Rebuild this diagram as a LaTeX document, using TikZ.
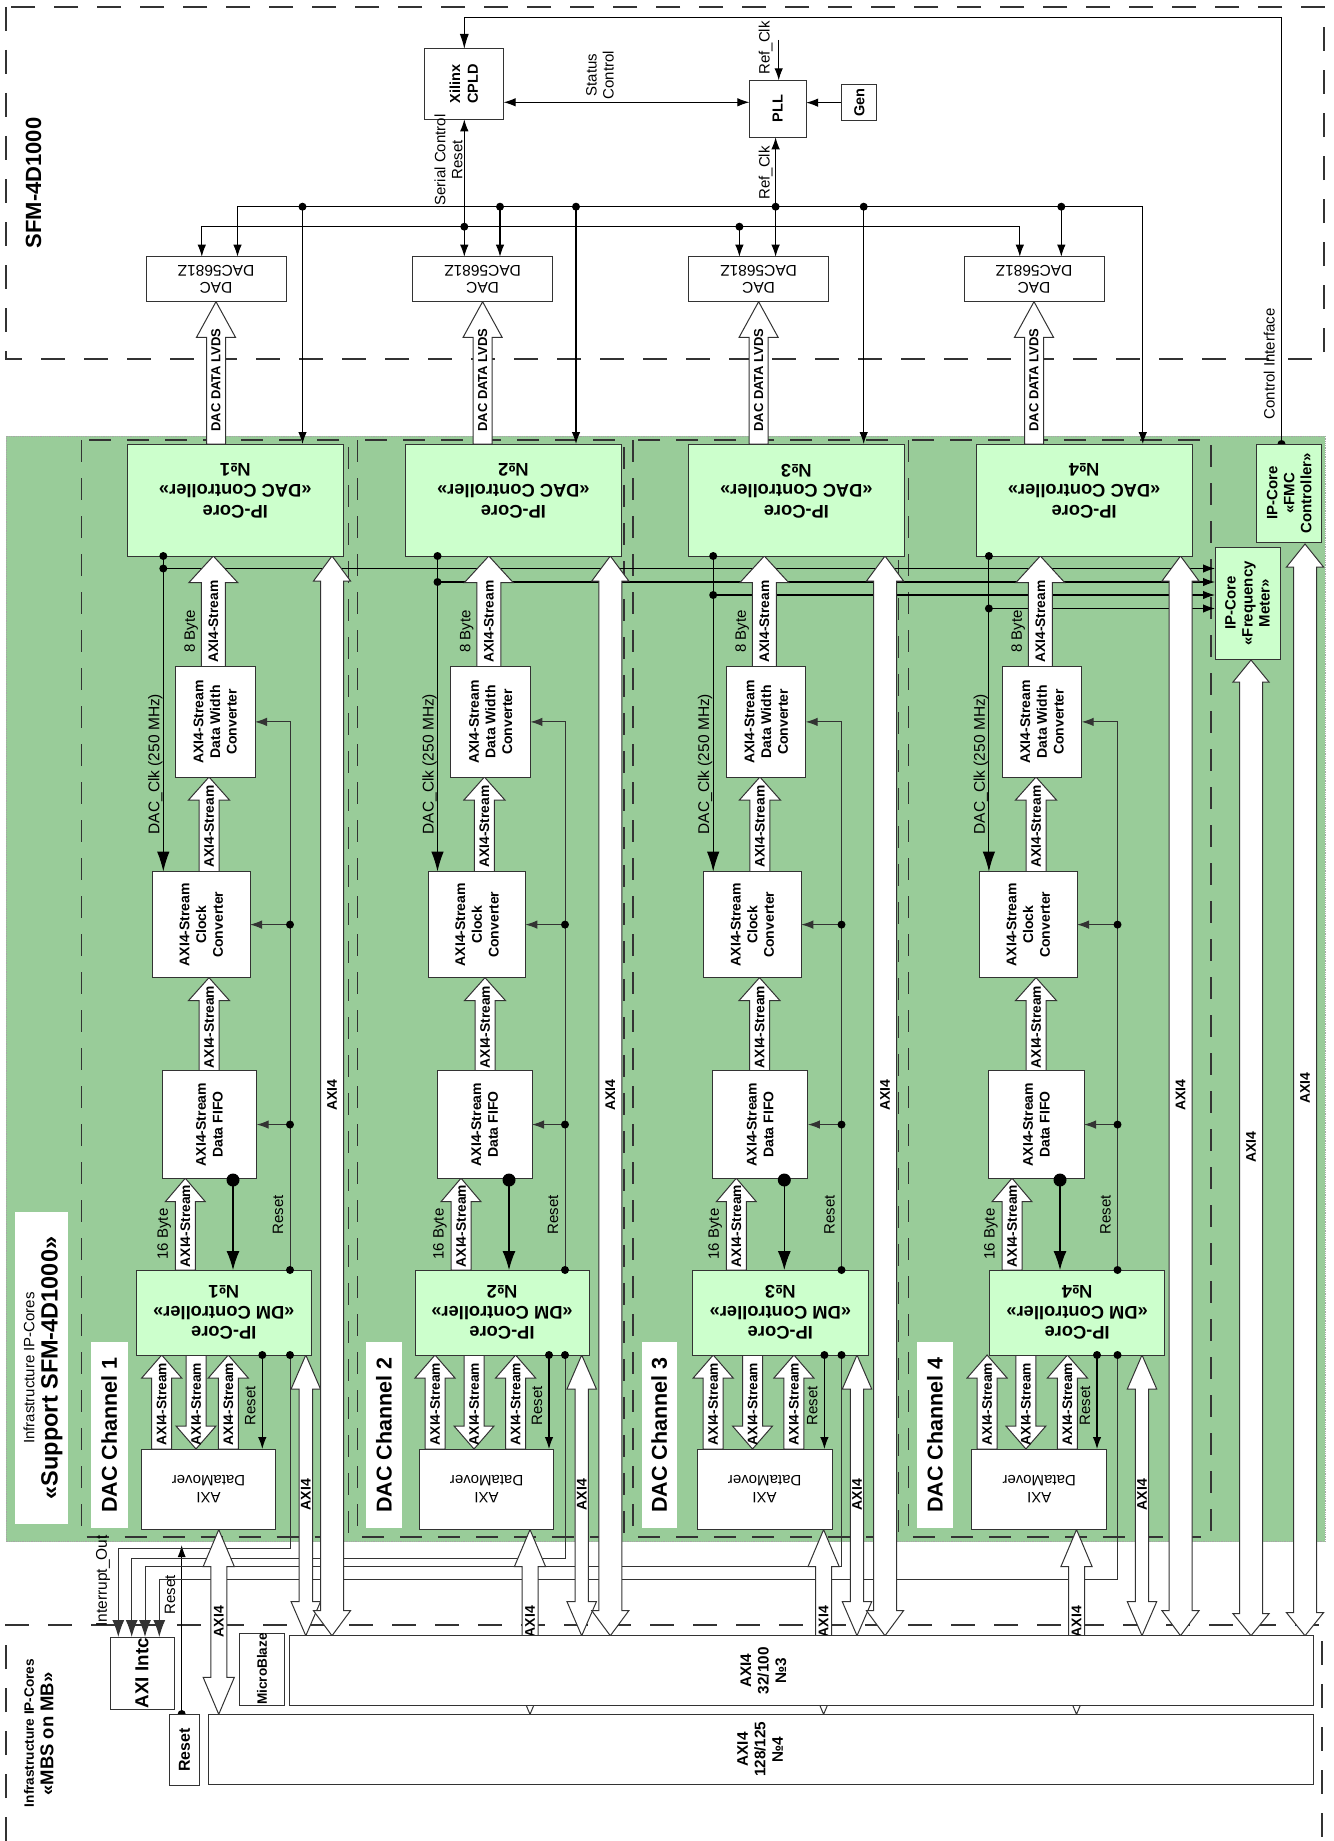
\documentclass[tikz,border=0pt]{standalone}
\usepackage{fontspec}
\setmainfont{Liberation Sans}
\usetikzlibrary{arrows.meta}
\definecolor{bggreen}{HTML}{99CC99}
\definecolor{lgreen}{HTML}{CCFFCC}
\definecolor{edgec}{HTML}{333333}
\pgfdeclarelayer{back}\pgfdeclarelayer{lines}\pgfdeclarelayer{fat}
\pgfsetlayers{back,lines,fat,main}
\newcommand\fatup[6]{\draw[fatarrow] ({#1},{#2}) -- ({#1+#5},{#2+#6}) -- ({#1+#4},{#2+#6}) -- ({#1+#4},{#3}) -- ({#1-#4},{#3}) -- ({#1-#4},{#2+#6}) -- ({#1-#5},{#2+#6}) -- cycle;}
\newcommand\fatdown[6]{\draw[fatarrow] ({#1},{#2}) -- ({#1+#5},{#2-#6}) -- ({#1+#4},{#2-#6}) -- ({#1+#4},{#3}) -- ({#1-#4},{#3}) -- ({#1-#4},{#2-#6}) -- ({#1-#5},{#2-#6}) -- cycle;}
\newcommand\fatboth[6]{\draw[fatarrow] ({#1},{#2}) -- ({#1+#5},{#2+#6}) -- ({#1+#4},{#2+#6}) -- ({#1+#4},{#3-#6}) -- ({#1+#5},{#3-#6}) -- ({#1},{#3}) -- ({#1-#5},{#3-#6}) -- ({#1-#4},{#3-#6}) -- ({#1-#4},{#2+#6}) -- ({#1-#5},{#2+#6}) -- cycle;}
\def\chlist{1/146/286/127.3/343.3/163.3/213.3/175.4/255/209/152.7/250/209/162/256.7/233/185.3/290/136/311.6/262.3/161.7/196/228.3/141.5/275.5/305.8/332/218.75/90.6/128/568.5/1548/118.3/81.7/348.3,
2/412.5/552.7/405.4/621.4/437.5/488.8/450.9/530.4/484.4/428.6/525.4/485/437.5/532/509/461/565/415/589/549/435/474/515.6/419.6/553.6/581.7/610.3/530/366/402/582/1558/131.7/357.3/624,
3/688.4/828.8/688.4/904.3/713.2/764.3/726.8/805.7/759.9/703.6/801.3/759.5/712.4/807.9/784.3/736.3/841.5/692.7/868/824.4/713.2/752.5/793.9/697/832.3/857/885/823.6/641.5/677/595/1566.7/145/633/898.6,
4/964/1104/976.2/1192/988.9/1040.3/1002.4/1081.7/1036/979.7/1077/1036/988.9/1084/1060/1012/1117.5/989.7/1164.6/1097/987.1/1025.9/1067.4/971.8/1106.6/1142/1180.5/1076.5/916.9/953.1/608.5/1579.3/159.3/908.2/1211}
\begin{document}
\begin{tikzpicture}[x=1pt,y=-1pt,
 every node/.style={inner sep=0pt,outer sep=0pt},
 sig/.style={draw=black,line width=1.1pt},
 gsig/.style={draw=edgec,line width=1pt},
 box/.style={draw=edgec,line width=1pt,fill=white},
 gbox/.style={box,fill=lgreen},
 wbox/.style={fill=white},
 fatarrow/.style={draw=edgec,fill=white,line width=1pt,line join=miter},
 regdash/.style={draw=edgec,line width=1.2pt,dash pattern=on 24pt off 19pt},
 chdash/.style={draw=edgec,line width=1.1pt,dash pattern=on 22pt off 16pt},
 ar/.style={-{Latex[length=12pt,width=8.5pt]}},
 arr/.style={{Latex[length=12pt,width=8.5pt]}-{Latex[length=12pt,width=8.5pt]}},
 arbig/.style={-{Latex[length=20pt,width=12.5pt]}},
 arint/.style={-{Latex[length=17pt,width=12pt]}},
 tn/.style={font=\fontsize{15}{17}\selectfont},
 tb/.style={font=\fontsize{14}{16.7}\selectfont\bfseries},
 ts/.style={font=\fontsize{13.8}{16}\selectfont\bfseries},
 tx/.style={font=\fontsize{14}{16}\selectfont\bfseries},
 tdc/.style={font=\fontsize{18.3}{20.7}\selectfont\bfseries},
 tch/.style={font=\fontsize{21.5}{24}\selectfont\bfseries},
 tipc/.style={font=\fontsize{15}{17}\selectfont\bfseries}]
\useasboundingbox (0,0) rectangle (1333,1841);
\begin{pgfonlayer}{back}
\fill[white] (0,0) rectangle (1333,1841);
\fill[bggreen] (6,436) rectangle (1325,1541.7);
\draw[black!35,densely dotted,line width=0.8pt] (6,436) rectangle (1325,1541.7);
\draw[regdash] (6,7) rectangle (1324,359);
\draw[regdash] (6,1841) -- (6,1625) -- (1322,1625) -- (1322,1841);
\end{pgfonlayer}

% ---------- top region boxes ----------
\node[box,minimum width=79.6,minimum height=70.3] (cpld) at (463.8,84.15) {};
\node[rotate=90,align=center,font=\fontsize{14.5}{17.8}\selectfont\bfseries] (cpldt) at (cpld) {Xilinx\\CPLD};
\node[box,minimum width=56.7,minimum height=57] (pll) at (777.75,108.8) {};
\node[rotate=90,font=\fontsize{14.5}{17}\selectfont\bfseries] (pllt) at (pll) {PLL};
\node[box,minimum width=34.9,minimum height=36.7] (gen) at (859.35,102.65) {};
\node[rotate=90,font=\fontsize{14.5}{17}\selectfont\bfseries] (gent) at (gen) {Gen};
\node[rotate=90,font=\fontsize{22}{26}\selectfont\bfseries] (sfm) at (33.5,183) {SFM-4D1000};
\node[rotate=90,align=center,tn] (stc) at (600,75) {Status\\Control};
\node[rotate=90,tn] (rc1) at (765.6,48) {Ref\_Clk};
\node[rotate=90,tn] (rc2) at (765.6,173) {Ref\_Clk};
\node[rotate=90,align=center,tn] (scr) at (448.6,160) {Serial Control\\Reset};
\node[rotate=90,tn] (cif) at (1269.3,364) {Control Interface};

\begin{pgfonlayer}{lines}
\draw[sig,-{Latex[length=15pt,width=9pt]}] (1281.5,444) -- (1281.5,17.7) -- (464.3,17.7) -- (464.3,49);
\draw[sig,arr] (464.3,119.3) -- (464.3,256.7);
\draw[sig,arr] (503.6,102.3) -- (749.4,102.3);
\draw[sig,ar] (gen.west) -- (806.1,102.65);
\draw[sig,ar] (778.7,40) -- (778.7,80.3);
\draw[sig,arr] (201.8,256.7) -- (201.8,226.7) -- (1019.8,226.7) -- (1019.8,256.7);
\draw[sig,ar] (739.4,226.7) -- (739.4,256.7);
\draw[sig,arr] (237.5,256.7) -- (237.5,206.7) -- (1142.8,206.7) -- (1142.8,444);
\draw[sig,ar] (302.5,206.7) -- (302.5,444);
\draw[sig,ar] (500,206.7) -- (500,256.7);
\draw[sig,ar] (576,206.7) -- (576,444);
\draw[sig,ar] (863.7,206.7) -- (863.7,444);
\draw[sig,ar] (1061.3,206.7) -- (1061.3,256.7);
\draw[sig,arr] (775.6,137.3) -- (775.6,256.7);
\draw[sig,-{Latex[length=12pt,width=8pt]}] (181.7,1714) -- (181.7,1545);
\end{pgfonlayer}
\foreach \p in {(302.5,206.7),(500,206.7),(576,206.7),(775.6,206.7),(863.7,206.7),(1061.3,206.7),(464.3,226.7),(739.4,226.7),(1281.5,444),(181.7,1714)}
  \fill \p circle[radius=4pt];

% ---------- channels ----------
\foreach \ch/\dacL/\dacR/\dcL/\dcR/\clkx/\ebx/\dwL/\dwR/\arA/\ccL/\ccR/\arB/\ffL/\ffR/\fdx/\sbx/\vlx/\dmcL/\dmcR/\rdx/\stA/\stB/\stC/\dmL/\dmR/\mxx/\bxx/\mbx/\lbL/\lbR/\fyy/\iyy/\ixx/\dsL/\dsR in \chlist {
  \begin{pgfonlayer}{back}
    \draw[chdash] (\dsL,440) rectangle (\dsR,1537);
  \end{pgfonlayer}
  % boxes
  \node[box,minimum width={\dacR-\dacL},minimum height=45] (dac\ch) at ({(\dacL+\dacR)/2},279.2) {};
  \node[rotate=180,align=center,font=\fontsize{15.5}{17}\selectfont] (dact\ch) at (dac\ch) {DAC\\DAC5681Z};
  \node[gbox,minimum width={\dcR-\dcL},minimum height=112] (dc\ch) at ({(\dcL+\dcR)/2},500) {};
  \node[rotate=180,align=center,tdc] (dct\ch) at ({(\dcL+\dcR)/2},491) {IP-Core\\«DAC Controller»\\№\ch};
  \node[box,minimum width={\dwR-\dwL},minimum height=110.2] (dw\ch) at ({(\dwL+\dwR)/2},721.9) {};
  \node[rotate=90,align=center,tb] (dwt\ch) at (dw\ch) {AXI4-Stream\\Data Width\\Converter};
  \node[box,minimum width={\ccR-\ccL},minimum height=106] (cc\ch) at ({(\ccL+\ccR)/2},924.6) {};
  \node[rotate=90,align=center,tb] (cct\ch) at (cc\ch) {AXI4-Stream\\Clock\\Converter};
  \node[box,minimum width={\ffR-\ffL},minimum height=107.3] (ff\ch) at ({(\ffL+\ffR)/2},1124.55) {};
  \node[rotate=90,align=center,tb] (fft\ch) at (ff\ch) {AXI4-Stream\\Data FIFO};
  \node[gbox,minimum width={\dmcR-\dmcL},minimum height=85] (dmc\ch) at ({(\dmcL+\dmcR)/2},1312.5) {};
  \node[rotate=180,align=center,tdc] (dmct\ch) at (dmc\ch) {IP-Core\\«DM Controller»\\№\ch};
  \node[box,minimum width={\dmR-\dmL},minimum height=80.6] (dm\ch) at ({(\dmL+\dmR)/2},1489.3) {};
  \node[rotate=180,align=center,font=\fontsize{15}{17.5}\selectfont] (dmt\ch) at (dm\ch) {AXI\\DataMover};
  \node[wbox,minimum width={\lbR-\lbL},minimum height=186] (lb\ch) at ({(\lbL+\lbR)/2},1435) {};
  \node[rotate=90,tch] (lbt\ch) at (lb\ch) {DAC Channel \ch};
  % thin connectors
  \begin{pgfonlayer}{lines}
    \draw[sig,arbig] (dc\ch.south -| \clkx,0) -- (\clkx,871.6);
    \draw[sig,ar] (\clkx,\fyy) -- (1215,\fyy);
    \draw[gsig,ar] (\vlx,1270) |- (dw\ch.east);
    \draw[gsig,ar] (\vlx,924.6) -- (cc\ch.east);
    \draw[gsig,ar] (\vlx,1124.55) -- (ff\ch.east);
    \draw[sig,-{Latex[length=19pt,width=13pt]}] (\fdx,1180) -- (\fdx,1270);
    \draw[sig,ar] (\rdx,1355) -- (\rdx,1449);
    \draw[gsig,arint] (\vlx,1355) -- (\vlx,\iyy) -- (\ixx,\iyy) -- (\ixx,1637);
  \end{pgfonlayer}
  % fat arrows
  \begin{pgfonlayer}{fat}
    \fatup{(\dacL+\dacR)/2}{301.7}{444}{9.5}{19.5}{35.6}
    \fatup{\ebx}{556}{666.8}{12}{24.5}{26.7}
    \fatup{\arA}{777}{871.6}{10}{20.5}{23}
    \fatup{\arB}{977.6}{1070.9}{10}{20.5}{23}
    \fatup{\sbx}{1178.2}{1270}{10}{20}{23.5}
    \fatup{\stA}{1355}{1449}{10}{20}{23}
    \fatdown{\stB}{1449}{1355}{10}{20}{23}
    \fatup{\stC}{1355}{1449}{10}{20}{23}
    \fatboth{\mxx}{1355}{1635.7}{6.7}{14.7}{34}
    \fatboth{\bxx}{556}{1635.7}{11.5}{18.5}{25}
    \fatboth{\mbx}{1529.6}{1714.3}{8}{15.6}{37}
  \end{pgfonlayer}
  % labels
  \node[rotate=90,font=\fontsize{13}{15}\selectfont\bfseries] (lv\ch) at ({(\dacL+\dacR)/2},380) {DAC DATA LVDS};
  \node[rotate=90,ts] (s1\ch) at (\ebx,621.5) {AXI4-Stream};
  \node[rotate=90,ts] (s2\ch) at (\arA,826.6) {AXI4-Stream};
  \node[rotate=90,ts] (s3\ch) at (\arB,1027) {AXI4-Stream};
  \node[rotate=90,ts] (s4\ch) at (\sbx,1226) {AXI4-Stream};
  \node[rotate=90,ts] (s5\ch) at (\stA,1404) {AXI4-Stream};
  \node[rotate=90,ts] (s6\ch) at (\stB,1404) {AXI4-Stream};
  \node[rotate=90,ts] (s7\ch) at (\stC,1404) {AXI4-Stream};
  \node[rotate=90,tx] (x1\ch) at (\bxx,1095) {AXI4};
  \node[rotate=90,tx] (x2\ch) at (\mxx,1494.6) {AXI4};
  \node[rotate=90,tx] (x3\ch) at (\mbx,1621.7) {AXI4};
  \node[rotate=90,tn] (b8\ch) at ({\ebx-22},631.4) {8 Byte};
  \node[rotate=90,tn] (b16\ch) at ({\sbx-21},1234) {16 Byte};
  \node[rotate=90,font=\fontsize{15.5}{17}\selectfont] (ck\ch) at ({\clkx-8},764) {DAC\_Clk (250 MHz)};
  \node[rotate=90,tn] (r1\ch) at ({\vlx-12},1214.6) {Reset};
  \node[rotate=90,tn] (r2\ch) at ({\rdx-12},1406) {Reset};
  % dots
  \foreach \p in {(\clkx,556),(\clkx,\fyy),(\vlx,1270),(\vlx,924.6),(\vlx,1124.55),(\rdx,1355),(\vlx,1355)}
    \fill \p circle[radius=4pt];
  \fill (\fdx,1180) circle[radius=6.5pt];
}

% ---------- right-hand IP cores ----------
\node[gbox,minimum width=65,minimum height=112] (fm) at (1247.5,603.3) {};
\node[rotate=90,align=center,tipc] (fmt) at (fm) {IP-Core\\«Frequency\\Meter»};
\node[gbox,minimum width=65,minimum height=98.3] (fmc) at (1289.2,493.15) {};
\node[rotate=90,align=center,tipc] (fmct) at (fmc) {IP-Core\\«FMC\\Controller»};
\begin{pgfonlayer}{fat}
\fatboth{1251}{660}{1635.7}{11.5}{18}{22}
\fatboth{1305}{544}{1635.7}{11.5}{18.5}{23}
\end{pgfonlayer}
\node[rotate=90,tx] (fmx) at (1251,1147) {AXI4};
\node[rotate=90,tx] (fmcx) at (1305,1088) {AXI4};

% ---------- support label ----------
\node[wbox,minimum width=53.6,minimum height=312.5] (sup) at (41.5,1367.75) {};
\node[rotate=90,tn] (sup1) at (29,1368) {Infrastructure IP-Cores};
\node[rotate=90,font=\fontsize{23.5}{26}\selectfont\bfseries] (sup2) at (51.8,1368) {«Support SFM-4D1000»};

% ---------- bottom region ----------
\node[box,minimum width=64,minimum height=72.3] (intc) at (142,1673.15) {};
\node[rotate=90,font=\fontsize{18.8}{21}\selectfont\bfseries] (intct) at (intc) {AXI Intc};
\node[box,minimum width=29.9,minimum height=71.7] (rst) at (184.55,1749.85) {};
\node[rotate=90,font=\fontsize{15.9}{18}\selectfont\bfseries] (rstt) at (rst) {Reset};
\node[box,minimum width=44.7,minimum height=72] (mb) at (262.05,1669) {};
\node[rotate=90,font=\fontsize{13.6}{16}\selectfont\bfseries] (mbt) at (mb) {MicroBlaze};
\node[box,minimum width=1024,minimum height=70] (bus3) at (801,1670.7) {};
\node[box,minimum width=1104.5,minimum height=70] (bus4) at (760.75,1749.3) {};
\node[rotate=90,align=center,font=\fontsize{15.3}{17.5}\selectfont\bfseries] (bus3t) at (763.4,1670.7) {AXI4\\32/100\\№3};
\node[rotate=90,align=center,font=\fontsize{15.3}{17.5}\selectfont\bfseries] (bus4t) at (760,1749.3) {AXI4\\128/125\\№4};
\node[rotate=90,font=\fontsize{13.6}{16}\selectfont\bfseries] (mbs1) at (29,1733) {Infrastructure IP-Cores};
\node[rotate=90,font=\fontsize{18.5}{21}\selectfont\bfseries] (mbs2) at (47,1734) {«MBS on MB»};
\node[rotate=90,font=\fontsize{15.5}{17}\selectfont] (iout) at (103,1581) {Interrupt\_Out};
\node[rotate=90,tn] (rlab) at (170,1595) {Reset};
\end{tikzpicture}
\end{document}
